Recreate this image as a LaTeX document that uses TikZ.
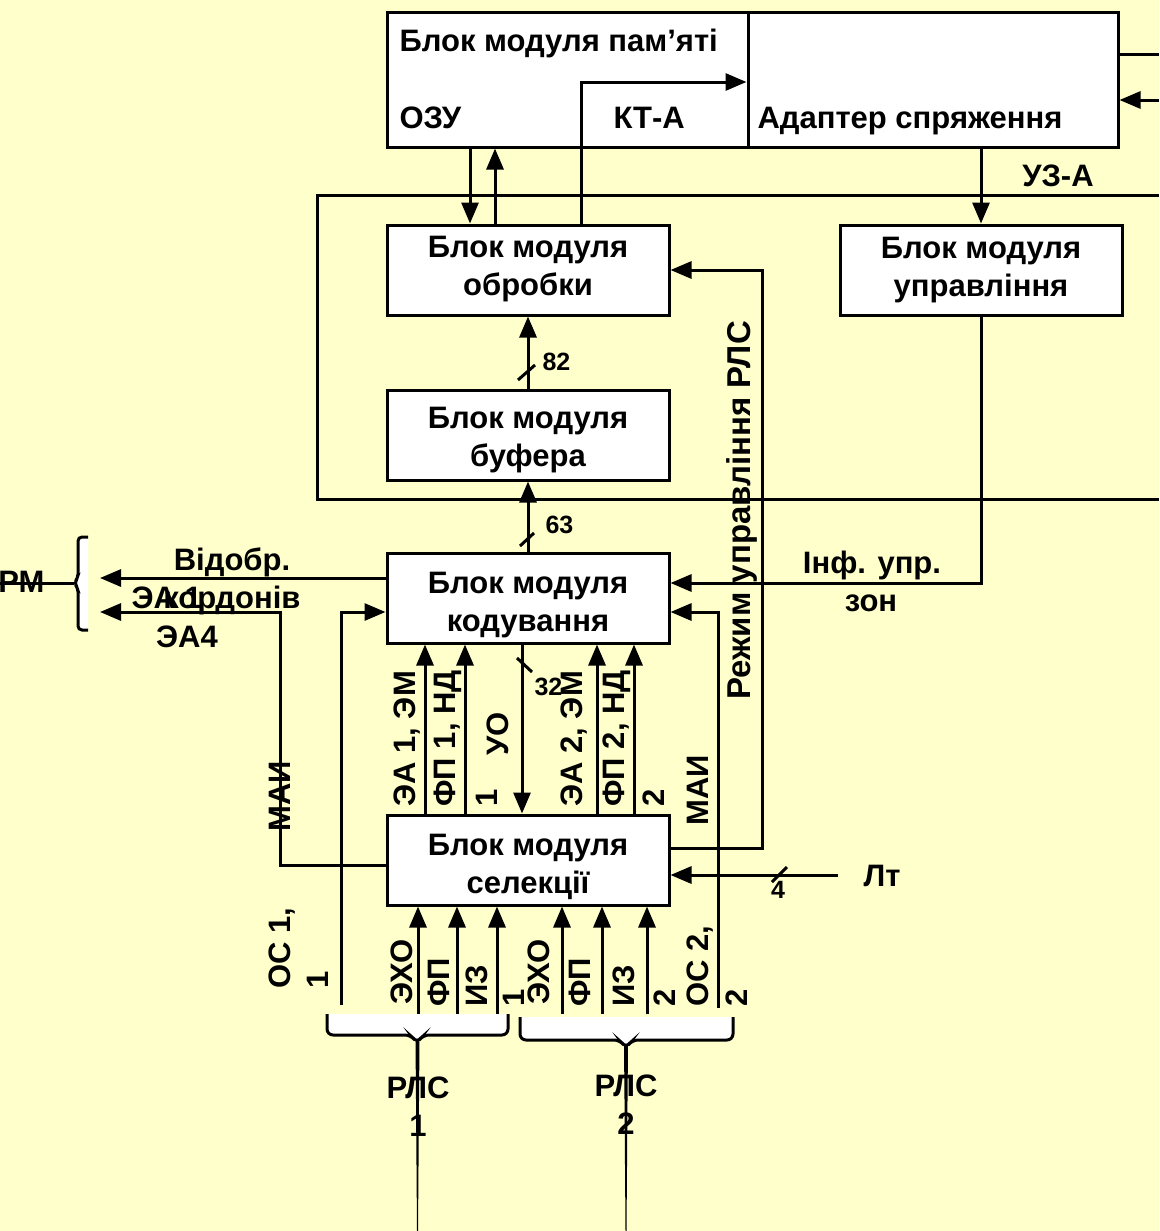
\documentclass[tikz,border=0pt]{standalone}
\usepackage{fontspec}
\setmainfont{Liberation Sans}
\usetikzlibrary{arrows.meta,calc}
\definecolor{bgy}{RGB}{255,255,204}
\newcommand\bigf{\fontsize{31}{38}\selectfont\bfseries}
\newcommand\smf{\fontsize{25}{28}\selectfont\bfseries}
\newcommand\rejf{\fontsize{33}{38}\selectfont\bfseries}
\begin{document}
\begin{tikzpicture}[x=1pt,y=-1pt,line width=3pt,
  box/.style={draw,fill=white,line width=3pt,minimum width=282pt,minimum height=90pt,inner sep=0pt},
  btxt/.style={inner sep=0pt,align=center,font=\bigf},
  lbl/.style={inner sep=0pt,font=\bigf},
  sml/.style={inner sep=0pt,font=\smf},
  arr/.style={-{Triangle[length=21pt,width=17pt]}},
  vl/.style={lbl,rotate=90,anchor=west}]
\fill[bgy] (0,0) rectangle (1159,1231);
\useasboundingbox (0,0) rectangle (1159,1231);

% frame
\draw (1159,195) -- (317,195) -- (317,499) -- (1159,499);

% top blocks
\node[draw,fill=white,minimum width=361pt,minimum height=134pt,inner sep=0pt] (mem) at (567.5,80) {};
\node[draw,fill=white,minimum width=370pt,minimum height=134pt,inner sep=0pt] (adp) at (933,80) {};
\node[lbl,anchor=base west] (t1) at (398,52) {Блок модуля пам’яті};
\node[lbl,anchor=base west] (t2) at (398,128) {ОЗУ};
\node[lbl,anchor=base west] (t3) at (612,128) {КТ-А};
\node[lbl,anchor=base west] (t4) at (756,128) {Адаптер спряження};
\node[lbl] (t5) at (1058,176) {УЗ-А};

% main blocks
\node[box] (obr) at (528,270) {};
\node[box] (upr) at (981,270) {};
\node[box] (buf) at (528,435) {};
\node[box] (kod) at (528,598) {};
\node[box] (sel) at (528,860) {};
\node[btxt] (obrT) at (528,269) {Блок модуля\\обробки};
\node[btxt] (uprT) at (981,270) {Блок модуля\\управління};
\node[btxt] (bufT) at (528,440) {Блок модуля\\буфера};
\node[btxt] (kodT) at (528,605) {Блок модуля\\кодування};
\node[btxt] (selT) at (528,867) {Блок модуля\\селекції};

% free ends
\coordinate (rOut) at (1159,55);
\coordinate (rIn) at (1159,100);
\coordinate (rmL) at (0,583);
\coordinate (lt) at (838,875);

% top connections
\draw[arr] ($(mem.south)+(-97.5,0)$) -- ($(obr.north)+(-58,0)$);
\draw[arr] ($(obr.north)+(-33,0)$) -- ($(mem.south)+(-72.5,0)$);
\draw[arr] ($(obr.north)+(53,0)$) |- ($(adp.west)+(0,2)$);
\draw[arr] ($(adp.south)+(48,0)$) -- (upr.north);
\draw ($(adp.east)+(0,-25)$) -- (rOut);
\draw[arr] (rIn) -- ($(adp.east)+(0,20)$);

% buffer chain
\draw[arr] (buf.north) -- (obr.south);
\draw (518,380) -- (535,365);
\node[sml,anchor=west] (n82) at (541,362) {82};
\draw[arr] (kod.north) -- (buf.south);
\draw (520,546) -- (534,533);
\node[sml,anchor=west] (n63) at (544,525) {63};

% kod <-> sel
\draw[arr] ($(sel.north)+(-103,0)$) -- ($(kod.south)+(-103,0)$);
\draw[arr] ($(sel.north)+(-63,0)$) -- ($(kod.south)+(-63,0)$);
\draw[arr] ($(kod.south)+(-6,0)$) -- ($(sel.north)+(-6,0)$);
\draw (517,658) -- (532,672);
\node[sml,anchor=west] (n32) at (533,687) {32};
\draw[arr] ($(sel.north)+(69,0)$) -- ($(kod.south)+(69,0)$);
\draw[arr] ($(sel.north)+(106,0)$) -- ($(kod.south)+(106,0)$);

\node[vl] (v1) at (407,808) {ЭА 1, ЭМ};
\node[vl] (v2) at (448,808) {ФП 1, НД};
\node[vl] (v3) at (487,808) {1};
\node[lbl,rotate=90] (v4) at (498,734) {УО};
\node[vl] (v5) at (574,808) {ЭА 2, ЭМ};
\node[vl] (v6) at (617,808) {ФП 2, НД};
\node[vl] (v7) at (654,808) {2};
\node[vl] (v8) at (698,827) {МАИ};

% left outputs
\draw[arr] ($(kod.west)+(0,-20)$) -- (100,578);
\draw[arr] ($(sel.west)+(0,5)$) -- (280,865) -- (280,612) -- (100,612);
\node[lbl] (l1) at (232,562) {Відобр.};
\node[lbl,anchor=east] (l2) at (302,600) {кордонів};
\node[lbl,anchor=west] (l3) at (130,598) {ЭА 1};
\node[lbl] (l4) at (187,637) {ЭА4};
\node[vl] (l5) at (280,833) {МАИ};
\node[lbl,anchor=east] (rm) at (46,582) {РМ};
\fill[white] (88,537) -- (78,537) -- (78,578) -- (73,583) -- (78,588) -- (78,630) -- (88,630) -- cycle;
\draw[rounded corners=4pt] (88,537) -- (78,537) -- (78,578) -- (74,583) -- (78,588) -- (78,630) -- (88,630);
\draw (rmL) -- (74,583);

% OS 1
\draw[arr] (341,1005) |- ($(kod.west)+(0,14)$);
\node[vl,align=left] (os1) at (299,990) {ОС 1,\\1};

% right side
\draw[arr] ($(sel.east)+(0,-12)$) -- (762,848) -- (762,270) -- (obr.east);
\node[lbl,font=\rejf,rotate=90,anchor=west] (rej) at (742,701) {Режим управління РЛС};
\draw[arr] (718,1008) |- ($(kod.east)+(0,14)$);
\draw[arr] (upr.south) |- ($(kod.east)+(0,-15)$);
\node[lbl] (i1) at (872,565) {Інф. упр.};
\node[lbl] (i2) at (871,603) {зон};
\draw[arr] (lt) -- ($(sel.east)+(0,15)$);
\draw (772,882) -- (787,867);
\node[sml] (n4) at (778,890) {4};
\node[lbl,anchor=west] (ltl) at (862,876) {Лт};

% bottom inputs
\foreach \dx in {-110,-71,-31,34,74,119}{
  \draw[arr] ($(sel.south)+(\dx,107)$) -- ($(sel.south)+(\dx,0)$);
}
\node[vl] (b1) at (402,1006) {ЭХО};
\node[vl] (b2) at (439,1008) {ФП};
\node[vl] (b3) at (477,1008) {ИЗ};
\node[vl] (b4) at (514,1008) {1};
\node[vl] (b5) at (539,1006) {ЭХО};
\node[vl] (b6) at (580,1008) {ФП};
\node[vl] (b7) at (624,1008) {ИЗ};
\node[vl] (b8) at (665,1008) {2};
\node[vl] (b9) at (700,1008) {ОС 2,};
\node[vl] (b10) at (737,1008) {2};

% braces
\draw[fill=white,rounded corners=6pt] (327,1014) -- (327,1035) -- (411,1035) -- (417,1043) -- (423,1035) -- (508,1035) -- (508,1014);
\draw[fill=white,rounded corners=6pt] (520,1017) -- (520,1040) -- (620,1040) -- (626,1048) -- (632,1040) -- (733,1040) -- (733,1017);
\fill (415.5,1040) -- (419.5,1040) -- (419,1100) -- (418,1231) -- (417,1231) -- (416,1100) -- cycle;
\fill (624,1045) -- (628,1045) -- (627.5,1100) -- (626.5,1231) -- (625.5,1231) -- (624.5,1100) -- cycle;
\node[lbl] (r1) at (418,1088) {РЛС};
\node[lbl] (r1n) at (418,1126) {1};
\node[lbl] (r2) at (626,1086) {РЛС};
\node[lbl] (r2n) at (626,1124) {2};
\end{tikzpicture}
\end{document}
